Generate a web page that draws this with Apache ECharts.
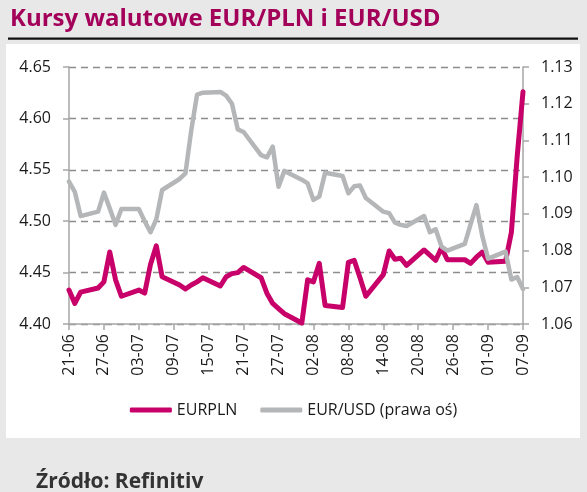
<!DOCTYPE html>
<html>
<head>
<meta charset="utf-8">
<script src="https://cdn.jsdelivr.net/npm/echarts@6/dist/echarts.min.js"></script>
<style>
  html, body { margin: 0; padding: 0; background: #e8e8e8; }
  #chart { width: 587px; height: 492px; }
</style>
</head>
<body>
<div id="chart"></div>
<script>
// business days (2023)
const days = ['21-06', '22-06', '23-06', '26-06', '27-06', '28-06', '29-06', '30-06',
    '03-07', '04-07', '05-07', '06-07', '07-07', '10-07', '11-07', '12-07', '13-07', '14-07',
    '17-07', '18-07', '19-07', '20-07', '21-07', '24-07', '25-07', '26-07', '27-07', '28-07',
    '31-07', '01-08', '02-08', '03-08', '04-08', '07-08', '08-08', '09-08', '10-08', '11-08',
    '14-08', '15-08', '16-08', '17-08', '18-08', '21-08', '22-08', '23-08', '24-08', '25-08',
    '28-08', '29-08', '30-08', '31-08', '01-09', '04-09', '05-09', '06-09', '07-09'];
const eurpln = [4.433, 4.420, 4.431, 4.435, 4.441, 4.470, 4.443, 4.427,
    4.433, 4.430, 4.458, 4.476, 4.446, 4.438, 4.434, 4.438, 4.441, 4.445,
    4.437, 4.446, 4.449, 4.450, 4.455, 4.445, 4.430, 4.420, 4.415, 4.410,
    4.401, 4.443, 4.441, 4.459, 4.418, 4.416, 4.460, 4.462, 4.445, 4.427,
    4.448, 4.471, 4.463, 4.464, 4.457, 4.472, 4.467, 4.462, 4.474, 4.4625,
    4.4625, 4.459, 4.465, 4.470, 4.460, 4.461, 4.489, 4.563, 4.626];
const eurusd = [1.0988, 1.0960, 1.0894, 1.0906, 1.0958, 1.0915, 1.0870, 1.0913,
    1.0913, 1.0880, 1.0850, 1.0885, 1.0965, 1.0995, 1.1010, 1.1127, 1.1225, 1.1230,
    1.1232, 1.1222, 1.1200, 1.1130, 1.1123, 1.1060, 1.1054, 1.1083, 1.0974, 1.1017,
    1.0993, 1.0983, 1.0938, 1.0947, 1.1012, 1.1003, 1.0956, 1.0975, 1.0977, 1.0943,
    1.0906, 1.0902, 1.0876, 1.0870, 1.0867, 1.0894, 1.0850, 1.0858, 1.0811, 1.0800,
    1.0818, 1.0872, 1.0924, 1.0840, 1.0778, 1.0797, 1.0721, 1.0728, 1.0695];
const seriesNames = ['EURPLN', 'EUR/USD (prawa oś)'];

// calendar axis: every day from 21-06 to 07-09, weekends left empty
const categories = [];
for (let t = Date.UTC(2023, 5, 21); t <= Date.UTC(2023, 8, 7); t += 86400000) {
    let d = new Date(t);
    categories.push(String(d.getUTCDate()).padStart(2, '0') + '-' + String(d.getUTCMonth() + 1).padStart(2, '0'));
}
function onCalendar(values) {
    return categories.map(c => {
        let i = days.indexOf(c);
        return i < 0 ? null : values[i];
    });
}

const font = 'Open Sans';
const axisGrey = '#a6a6a6';
let chart = echarts.init(document.getElementById('chart'));
let option = {
    backgroundColor: '#e8e8e8',
    animation: false,
    title: [{
        text: 'Kursy walutowe EUR/PLN i EUR/USD',
        left: 5, top: 2,
        textStyle: { color: '#a3005a', fontFamily: font, fontWeight: 'bold', fontSize: 24 }
    }, {
        text: 'Źródło: Refinitiv',
        left: 31, top: 467,
        textStyle: { color: '#333', fontFamily: font, fontWeight: 'bold', fontSize: 21 }
    }],
    graphic: [
        { type: 'rect', shape: { x: 6, y: 44, width: 574, height: 394 }, style: { fill: '#fff' }, z: -10 },
        { type: 'rect', shape: { x: 8, y: 37.5, width: 570, height: 2.2 }, style: { fill: '#111' }, z: -10 }
    ],
    legend: {
        data: seriesNames,
        left: 'center', top: 397,
        icon: 'roundRect',
        itemWidth: 42, itemHeight: 5,
        itemGap: 23,
        textStyle: { fontFamily: font, fontSize: 16, color: '#1a1a1a' }
    },
    grid: { left: 69, right: 64, top: 67, bottom: 168 },
    xAxis: {
        type: 'category',
        data: categories,
        boundaryGap: false,
        axisLine: { lineStyle: { color: axisGrey, width: 1.5 } },
        axisTick: { interval: 5, length: 6, lineStyle: { color: axisGrey, width: 1.5 } },
        axisLabel: { interval: 5, rotate: 90, margin: 10, fontFamily: font, fontSize: 16, color: '#1a1a1a' },
        splitLine: { show: false }
    },
    yAxis: [{
        type: 'value',
        min: 4.40, max: 4.65, interval: 0.05,
        axisLine: { show: true, lineStyle: { color: axisGrey, width: 1.5 } },
        axisTick: { show: true, length: 6, lineStyle: { color: axisGrey, width: 1.5 } },
        axisLabel: {
            margin: 18, fontFamily: font, fontSize: 16, color: '#1a1a1a',
            formatter: v => v.toFixed(2)
        },
        splitLine: { lineStyle: { color: '#8c8c8c', width: 1.3, type: [7, 5] } }
    }, {
        type: 'value',
        min: 1.06, max: 1.13, interval: 0.01,
        axisLine: { show: true, lineStyle: { color: axisGrey, width: 1.5 } },
        axisTick: { show: true, length: 6, lineStyle: { color: axisGrey, width: 1.5 } },
        axisLabel: {
            margin: 18, fontFamily: font, fontSize: 16, color: '#1a1a1a',
            formatter: v => v.toFixed(2)
        },
        splitLine: { show: false }
    }],
    series: [{
        name: seriesNames[0],
        type: 'line',
        yAxisIndex: 0,
        data: onCalendar(eurpln),
        connectNulls: true,
        showSymbol: false,
        color: '#c8006a',
        lineStyle: { width: 5, cap: 'round', join: 'round' }
    }, {
        name: seriesNames[1],
        type: 'line',
        yAxisIndex: 1,
        data: onCalendar(eurusd),
        connectNulls: true,
        showSymbol: false,
        color: '#b4b6b8',
        lineStyle: { width: 4.5, cap: 'round', join: 'round' }
    }]
};
chart.setOption(option);
</script>
</body>
</html>
